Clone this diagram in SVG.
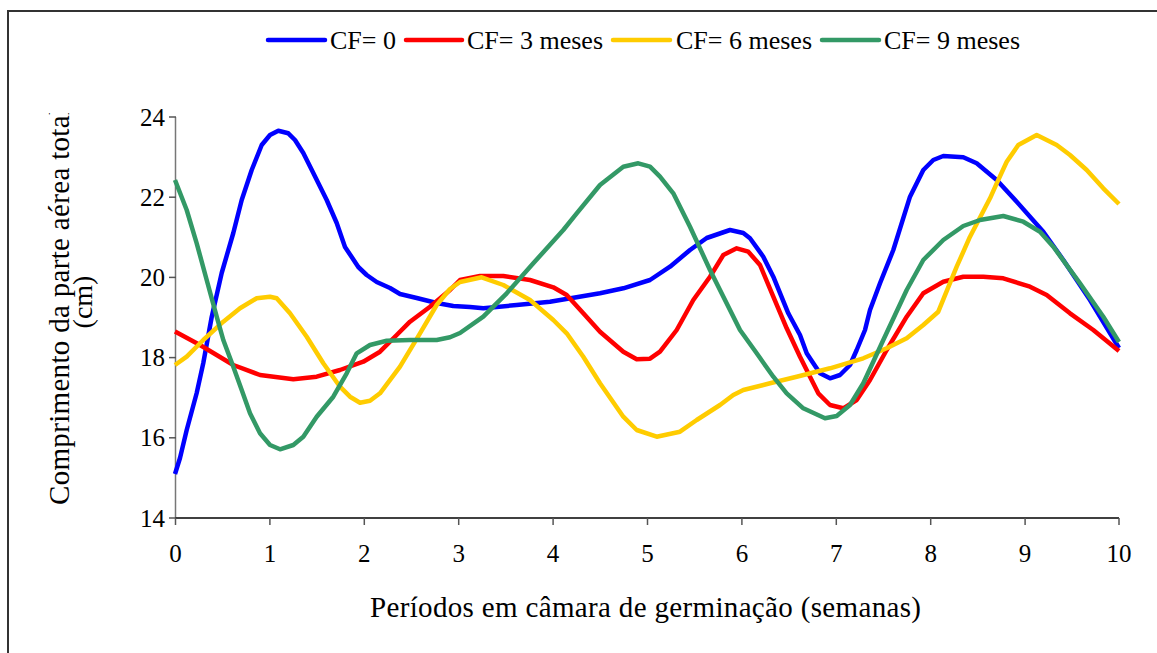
<svg xmlns="http://www.w3.org/2000/svg" width="1157" height="653" viewBox="0 0 1157 653">
<style>
  .s { fill: none; stroke-width: 4.5; stroke-linejoin: round; stroke-linecap: butt; }
  .b { stroke: #0000FF; } .r { stroke: #FF0000; } .y { stroke: #FFCC00; } .g { stroke: #339966; }
  .t { font-family: "Liberation Serif", serif !important; fill: #000; }
</style>
<defs>
  <clipPath id="ytclip"><rect x="0" y="113" width="200" height="540"/></clipPath>
</defs>
<rect width="1157" height="653" fill="#fff"/>
<path d="M8,653 V11 H1157" fill="none" stroke="#333" stroke-width="2"/>

<g id="axes">
  <line x1="175.5" y1="117" x2="175.5" y2="518" stroke="#777" stroke-width="1.5"/>
  <line x1="175" y1="518" x2="1119" y2="518" stroke="#000" stroke-width="1.5"/>
  <g stroke="#555" stroke-width="1.5">
    <line x1="169" y1="117" x2="176" y2="117"/>
    <line x1="169" y1="197.2" x2="176" y2="197.2"/>
    <line x1="169" y1="277.4" x2="176" y2="277.4"/>
    <line x1="169" y1="357.6" x2="176" y2="357.6"/>
    <line x1="169" y1="437.8" x2="176" y2="437.8"/>
    <line x1="169" y1="518" x2="176" y2="518"/>
    <line x1="175.5" y1="518" x2="175.5" y2="525"/>
    <line x1="269.9" y1="518" x2="269.9" y2="525"/>
    <line x1="364.3" y1="518" x2="364.3" y2="525"/>
    <line x1="458.7" y1="518" x2="458.7" y2="525"/>
    <line x1="553.1" y1="518" x2="553.1" y2="525"/>
    <line x1="647.5" y1="518" x2="647.5" y2="525"/>
    <line x1="741.9" y1="518" x2="741.9" y2="525"/>
    <line x1="836.3" y1="518" x2="836.3" y2="525"/>
    <line x1="930.7" y1="518" x2="930.7" y2="525"/>
    <line x1="1025.1" y1="518" x2="1025.1" y2="525"/>
    <line x1="1119" y1="518" x2="1119" y2="525"/>
  </g>
  <g font-size="25" text-anchor="end">
    <text class="t" style="font-family:'Liberation Serif'" x="165" y="126">24</text>
    <text class="t" style="font-family:'Liberation Serif'" x="165" y="206">22</text>
    <text class="t" style="font-family:'Liberation Serif'" x="165" y="286">20</text>
    <text class="t" style="font-family:'Liberation Serif'" x="165" y="366">18</text>
    <text class="t" style="font-family:'Liberation Serif'" x="165" y="446">16</text>
    <text class="t" style="font-family:'Liberation Serif'" x="165" y="527">14</text>
  </g>
  <g font-size="25" text-anchor="middle">
    <text class="t" style="font-family:'Liberation Serif'" x="175.5" y="562">0</text>
    <text class="t" style="font-family:'Liberation Serif'" x="269.9" y="562">1</text>
    <text class="t" style="font-family:'Liberation Serif'" x="364.3" y="562">2</text>
    <text class="t" style="font-family:'Liberation Serif'" x="458.7" y="562">3</text>
    <text class="t" style="font-family:'Liberation Serif'" x="553.1" y="562">4</text>
    <text class="t" style="font-family:'Liberation Serif'" x="647.5" y="562">5</text>
    <text class="t" style="font-family:'Liberation Serif'" x="741.9" y="562">6</text>
    <text class="t" style="font-family:'Liberation Serif'" x="836.3" y="562">7</text>
    <text class="t" style="font-family:'Liberation Serif'" x="930.7" y="562">8</text>
    <text class="t" style="font-family:'Liberation Serif'" x="1025.1" y="562">9</text>
    <text class="t" style="font-family:'Liberation Serif'" x="1119" y="562">10</text>
  </g>
  <text class="t" style="font-family:'Liberation Serif'" font-size="29" x="370" y="617" textLength="551" lengthAdjust="spacing">Períodos em câmara de germinação (semanas)</text>
  <g clip-path="url(#ytclip)">
    <text class="t" style="font-family:'Liberation Serif'" font-size="29" transform="translate(69,505) rotate(-90)" textLength="398" lengthAdjust="spacing">Comprimento da parte aérea total</text>
  </g>
  <text class="t" style="font-family:'Liberation Serif'" font-size="28" transform="translate(92,302) rotate(-90)" text-anchor="middle">(cm)</text>
</g>

<g id="series">
  <polyline class="s b" points="175,474 180,458 186.7,430 196.7,393 203.3,363 211.7,317 221.7,273 233.3,233 241.7,200 251.7,170 261.7,145 270,135 278.3,130.7 288.3,133.3 295,140 303.3,153 313.3,173 326.7,200 336.7,223 345,247 351.7,257 358.3,267 366.7,275 376.7,282 390,288 400,294 416.7,298 436.7,303 453.3,306 470,307 483.3,308.3 516.7,305 550,301.7 600,293.3 623.3,288.3 650,280 670,266.7 690,250 706.7,238 730,230 743.3,233 750,238.3 763.3,256.7 773.3,276.7 788.3,313.3 800,335 806.7,353.3 813.3,363.3 820,373.3 830,378.3 840,375 850,365 856.7,350 865,330 870,310 880,283.3 893.3,250 910,196.7 923.3,170 933.3,160 943.3,156 963.3,157.3 976.7,163.3 996.7,180 1016.7,201.7 1043.3,231.7 1063.3,260 1090,300 1119,348"/>
  <polyline class="s r" points="175,331.5 200,345 233.3,365 260,375 293.3,379.3 316.7,376.7 340,370 363.3,361.7 380,351.7 396.7,335 410,321.7 430,306.7 450,290 460,280 480,276 503.3,276 530,280 553.3,287.3 566.7,295 583.3,313.3 600,331.7 623.3,351.7 636.7,359.3 650,358.7 660,351.7 676.7,330 693.3,300 710,276.7 723.3,255 736.7,248.3 748.3,251.7 760,265 773.3,296.7 786.7,328.3 800,356.7 810,376.7 818.3,393.3 830,405 843.3,408.3 856.7,400 870,380 886.7,350 906.7,316.7 923.3,293.3 943.3,281.7 963.3,276.7 983.3,276.7 1003.3,278.3 1030,286.7 1046.7,295 1070,313.3 1093.3,330 1119,351"/>
  <polyline class="s y" points="175,365 186.7,356.7 203.3,340 223.3,321.7 240,308.3 256.7,298.3 270,296.7 276.7,298.3 290,313.3 306.7,336.7 323.3,363.3 340,386.7 350,396.7 360,402.7 370,400.7 380,393.3 400,366.7 420,333.3 436.7,305 450,289 460,282 481.7,277.3 503.3,285 530,300 553.3,320 566.7,333.3 583.3,356.7 600,383.3 623.3,416.7 636.7,430 656.7,436.7 680,431.7 696.7,420 720,405 733.3,395 743.3,390 770,383.3 796.7,376.7 830,368.3 863.3,358.3 886.7,348.3 906.7,338.3 923.3,325 938.3,311.7 956.7,266.7 970,236.7 990,198.3 996.7,183.3 1006.7,161.7 1018.3,145 1036.7,135 1056.7,145 1070,155 1086.7,170 1103.3,188.3 1119,204"/>
  <polyline class="s g" points="175,180 186.7,210 196.7,243.3 206.7,280 216.7,316.7 223.3,340 233.3,366.7 241.7,390 250,413.3 260,433.3 270,445 280,449.3 293.3,445 303.3,436.7 316.7,416.7 333.3,396.7 346.7,373.3 356.7,353.3 370,345 386.7,340.7 410,340 436.7,340 450,337.3 460,333 483.3,316.7 506.7,293.3 533.3,263.3 563.3,230 576.7,213.3 600,185 623.3,166.7 638.3,163.3 650,166.7 660,176.7 673.3,193.3 690,226.7 710,270 730,310 740,330 756.7,353.3 773.3,376.7 786.7,393.3 803.3,408.3 825,418.3 836.7,416 850,405 863.3,383.3 883.3,340 906.7,290 923.3,260 943.3,240 963.3,226 980,220 1003.3,216 1023.3,221.7 1040,231.7 1053.3,246.7 1080,283.3 1103.3,316.7 1119,342"/>
</g>

<g id="legend">
  <line class="s b" x1="268" y1="40" x2="325" y2="40" style="stroke-linecap:round"/>
  <line class="s r" x1="406" y1="40" x2="462" y2="40" style="stroke-linecap:round"/>
  <line class="s y" x1="613" y1="40" x2="670" y2="40" style="stroke-linecap:round"/>
  <line class="s g" x1="822" y1="40" x2="879" y2="40" style="stroke-linecap:round"/>
  <g font-size="26">
    <text class="t" style="font-family:'Liberation Serif'" x="330" y="49">CF= 0</text>
    <text class="t" style="font-family:'Liberation Serif'" x="467" y="49">CF= 3 meses</text>
    <text class="t" style="font-family:'Liberation Serif'" x="676" y="49">CF= 6 meses</text>
    <text class="t" style="font-family:'Liberation Serif'" x="884" y="49">CF= 9 meses</text>
  </g>
</g>
</svg>
